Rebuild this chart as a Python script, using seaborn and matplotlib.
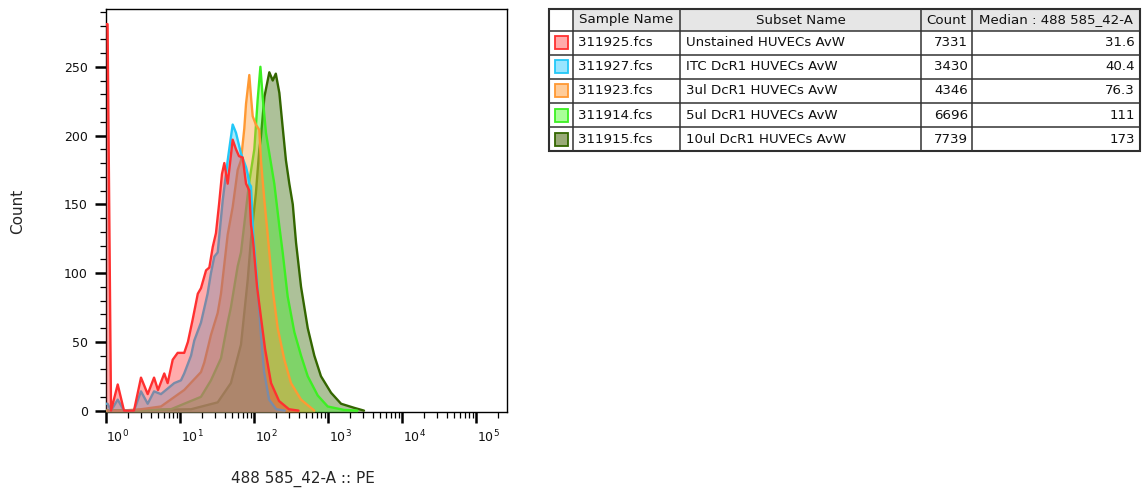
import matplotlib
matplotlib.use("Agg")
import matplotlib.pyplot as plt
import matplotlib.transforms as mtransforms
import numpy as np
import pandas as pd
import seaborn as sns
from matplotlib.patches import Rectangle
from matplotlib.ticker import LogLocator, MultipleLocator, NullFormatter

# table contents
sample_names = ["311925.fcs", "311927.fcs", "311923.fcs", "311914.fcs", "311915.fcs"]
subset_names = ["Unstained HUVECs AvW", "ITC DcR1 HUVECs AvW", "3ul DcR1 HUVECs AvW",
                "5ul DcR1 HUVECs AvW", "10ul DcR1 HUVECs AvW"]
event_counts = [7331, 3430, 4346, 6696, 7739]
medians = ["31.6", "40.4", "76.3", "111", "173"]
header = ["", "Sample Name", "Subset Name", "Count", "Median : 488 585_42-A"]

line_colors = ["#ff3030", "#22c8f8", "#ff9933", "#3cf022", "#336600"]
swatch_fill = ["#ffaaaa", "#99e5ff", "#ffcc99", "#aaff99", "#99aa77"]

# histogram traces: PE intensity vs count
unstained_pe = [1.0, 1.05, 1.17, 1.44, 1.75, 2.39, 2.97, 3.66, 4.46, 5.04, 6.13, 6.81, 7.97, 9.3,
                11.4, 12.8, 14.8, 17.4, 19.2, 22.5, 24.9, 27.7, 30.6, 33.7, 36.9, 39.7, 44.1, 51.5,
                57.1, 62.7, 70.3, 78.0, 86.4, 91.1, 96.9, 110, 124, 141, 170, 218, 297, 400]
unstained_count = [281, 281, 0, 19, 0, 0, 24, 12, 24, 15, 27, 20, 37, 42,
                   42, 50, 66, 85, 89, 102, 104, 119, 129, 150, 172, 180, 165, 197,
                   190, 185, 184, 165, 160, 135, 124, 90, 68, 45, 20, 7, 1, 0]

itc_pe = [1.0, 1.05, 1.17, 1.44, 1.75, 2.39, 2.97, 3.66, 4.46, 5.53, 6.81, 8.36, 10.3, 11.4,
          14.1, 15.6, 19.2, 23.6, 26.2, 29.1, 32.3, 37.8, 44.1, 51.5, 57.1, 66.6, 78.0, 82.2,
          86.4, 91.1, 96.9, 110, 124, 137, 160, 200, 260]
itc_count = [5, 5, 0, 8, 0, 0, 14, 5, 14, 12, 16, 20, 22, 27,
             40, 51, 64, 85, 100, 112, 115, 153, 182, 208, 202, 187, 177, 172,
             165, 163, 130, 95, 55, 28, 8, 1, 0]

dose3_pe = [1.0, 1.59, 2.97, 5.53, 11.4, 19.2, 21.3, 26.2, 32.3, 35.8, 44.1, 51.5, 60.2, 66.7,
            73.9, 78.0, 86.4, 91.1, 96.0, 106, 118, 124, 138, 153, 179, 209, 257, 316, 432, 653]
dose3_count = [0, 0, 1, 3, 15, 28, 35, 55, 71, 85, 128, 148, 175, 182,
               205, 223, 244, 228, 214, 208, 204, 182, 153, 128, 88, 60, 37, 20, 8, 0]

dose5_pe = [1.0, 2.97, 7.56, 11.4, 19.2, 26.2, 35.8, 44.1, 48.7, 60.2, 66.7, 75.6, 85.6, 101,
            112, 122, 131, 145, 161, 188, 220, 244, 285, 351, 432, 532, 726, 991, 1644, 2500]
dose5_count = [0, 0, 1, 5, 10, 22, 38, 64, 75, 105, 115, 140, 165, 190,
               226, 250, 228, 202, 187, 165, 134, 115, 83, 57, 40, 25, 11, 3, 0.5, 0]

dose10_pe = [1.0, 4.06, 14.1, 32.3, 48.7, 66.7, 82.2, 91.1, 106, 118, 124, 138, 161, 179,
             197, 220, 244, 270, 300, 334, 370, 432, 532, 653, 803, 1099, 1500, 2266, 3065]
dose10_count = [0, 0.5, 1, 6, 20, 48, 95, 125, 158, 190, 199, 228, 246, 240,
                245, 231, 206, 182, 165, 150, 122, 90, 60, 40, 25, 13, 5, 2, 0]

traces = [(unstained_pe, unstained_count), (itc_pe, itc_count), (dose3_pe, dose3_count),
          (dose5_pe, dose5_count), (dose10_pe, dose10_count)]
hist = pd.concat([
    pd.DataFrame({"sample": sample_names[i], "pe": pe, "count": cnt})
    for i, (pe, cnt) in enumerate(traces)
])

sns.set_style("ticks")
plt.rcParams["font.family"] = ["DejaVu Sans"]

W, H = 1144, 490
fig = plt.figure(figsize=(W / 100, H / 100), dpi=100)
ax = fig.add_axes([106 / W, 78 / H, 401 / W, 403 / H])
ax.set_xscale("log")

# first listed sample ends up on top, like the FlowJo overlay
for k in reversed(range(len(sample_names))):
    d = hist[hist["sample"] == sample_names[k]]
    z = 2 + 2 * (len(sample_names) - 1 - k)
    ax.fill_between(d["pe"], d["count"], -1, color=line_colors[k], alpha=0.4, lw=0, zorder=z)
    sns.lineplot(data=d, x="pe", y="count", color=line_colors[k], lw=1.7, ax=ax,
                 estimator=None, sort=False, zorder=z + 1)

ax.set_xlim(1, 262144)
ax.set_ylim(-1, 292)
ax.set_xlabel("")
ax.set_ylabel("")
ax.xaxis.set_major_locator(LogLocator(base=10, numticks=10))
ax.xaxis.set_minor_locator(LogLocator(base=10, subs=np.arange(2, 10), numticks=30))
ax.xaxis.set_minor_formatter(NullFormatter())
ax.yaxis.set_major_locator(MultipleLocator(50))
ax.yaxis.set_minor_locator(MultipleLocator(10))
ax.tick_params(which="major", direction="out", length=8, width=1.8, color="black",
               labelsize=9, labelcolor="#111111")
ax.tick_params(which="minor", direction="out", length=4, width=0.9, color="black")
ax.tick_params(axis="y", pad=5)
ax.tick_params(axis="x", pad=4)
for side in ax.spines.values():
    side.set_color("black")
    side.set_linewidth(1.0)

# FlowJo draws the decade labels a little right of the tick
shift = mtransforms.ScaledTranslation(0.12, 0, fig.dpi_scale_trans)
for lab in ax.get_xticklabels():
    lab.set_transform(lab.get_transform() + shift)

fig.text(18 / W, 1 - 211 / H, "Count", rotation=90, ha="center", va="center", fontsize=11)
fig.text(303 / W, 1 - 479 / H, "488 585_42-A :: PE", ha="center", va="center", fontsize=11)

# statistics table
tax = fig.add_axes([0, 0, 1, 1])
tax.set_xlim(0, W)
tax.set_ylim(H, 0)
tax.axis("off")
col_edges = [549, 573, 680, 921, 972, 1140]
row_edges = [9, 31, 55, 79, 103, 127, 151]
fs = 9.6

for c in range(1, 5):
    tax.add_patch(Rectangle((col_edges[c], row_edges[0]), col_edges[c + 1] - col_edges[c],
                            row_edges[1] - row_edges[0], facecolor="#e6e6e6", edgecolor="none"))
for x in col_edges:
    tax.plot([x, x], [row_edges[0], row_edges[-1]], color="#333333", lw=1.1)
for y in row_edges:
    tax.plot([col_edges[0], col_edges[-1]], [y, y], color="#333333", lw=1.1)
tax.add_patch(Rectangle((col_edges[0], row_edges[0]), col_edges[-1] - col_edges[0],
                        row_edges[-1] - row_edges[0], fill=False, edgecolor="#222222", lw=1.5))

hy = (row_edges[0] + row_edges[1]) / 2
for c in range(1, 5):
    tax.text((col_edges[c] + col_edges[c + 1]) / 2, hy, header[c], ha="center", va="center",
             fontsize=fs, color="#111111")

for r in range(len(sample_names)):
    cy = (row_edges[r + 1] + row_edges[r + 2]) / 2
    tax.add_patch(Rectangle((555, cy - 6.5), 13, 13, facecolor=swatch_fill[r],
                            edgecolor=line_colors[r], lw=1.3))
    tax.text(col_edges[1] + 5, cy, sample_names[r], ha="left", va="center", fontsize=fs, color="#111111")
    tax.text(col_edges[2] + 6, cy, subset_names[r], ha="left", va="center", fontsize=fs, color="#111111")
    tax.text(col_edges[4] - 4, cy, str(event_counts[r]), ha="right", va="center", fontsize=fs, color="#111111")
    tax.text(col_edges[5] - 5, cy, medians[r], ha="right", va="center", fontsize=fs, color="#111111")

fig.savefig("out.png", dpi=100, facecolor="white")
